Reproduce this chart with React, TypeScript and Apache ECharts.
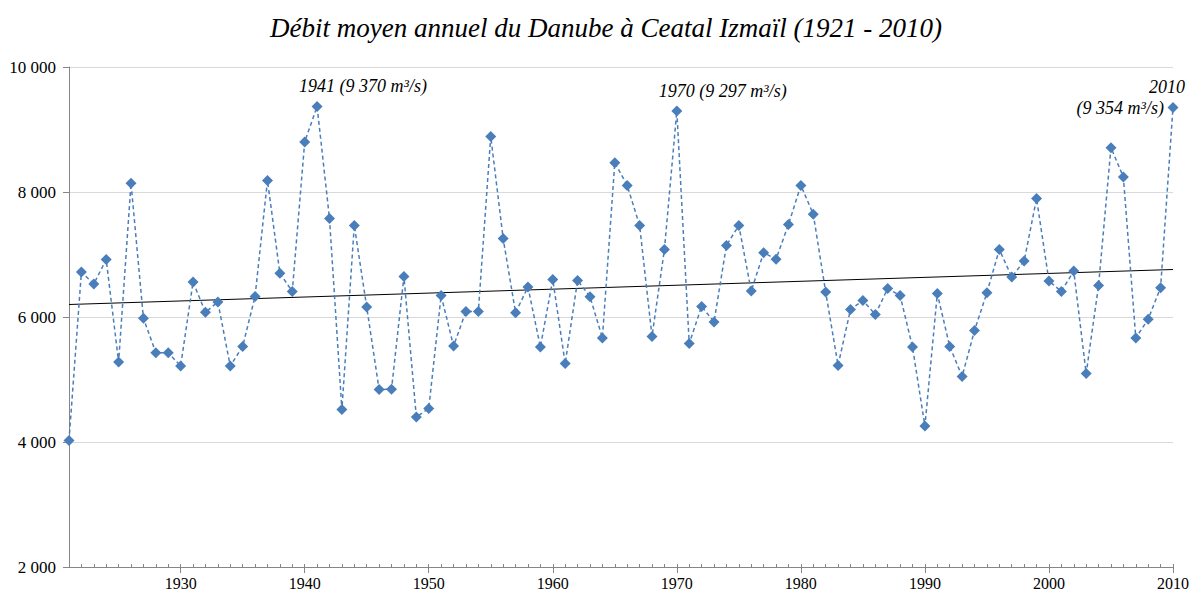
import React, { useEffect, useRef } from "react";
import * as echarts from "echarts";

const firstYear = 1921;
const lastYear = 2010;
const years: string[] = Array.from({ length: lastYear - firstYear + 1 }, (_, i) => String(firstYear + i));

const flows: number[] = [
  4024, 6720, 6530, 6920, 5280, 8140, 5980, 5430, 5430, 5215,
  6560, 6075, 6240, 5215, 5530, 6330, 8185, 6700, 6410, 8800,
  9370, 7575, 4520, 7465, 6160, 4840, 4845, 6650, 4400, 4535,
  6345, 5535, 6090, 6090, 8890, 7255, 6070, 6480, 5520, 6600,
  5255, 6585, 6325, 5665, 8470, 8105, 7465, 5690, 7080, 9297,
  5575, 6170, 5920, 7145, 7465, 6415, 7030, 6925, 7480, 8105,
  7645, 6400, 5225, 6120, 6265, 6040, 6455, 6345, 5520, 4255,
  6375, 5530, 5050, 5785, 6390, 7080, 6640, 6895, 7895, 6575,
  6410, 6735, 5095, 6505, 8710, 8240, 5665, 5965, 6470, 9354,
];

const trendStart = 6200;
const trendEnd = 6760;

const yTicks = [2000, 4000, 6000, 8000, 10000];

const titleText = "Débit moyen annuel du Danube à Ceatal Izmaïl (1921 - 2010)";
const annotated: Record<string, string> = {
  "1941": "1941 (9 370 m³/s)",
  "1970": "1970 (9 297 m³/s)",
};
const lastLabelYear = "2010";
const lastLabelTop = "2010";
const lastLabelBottom = "(9 354 m³/s)";

const fmt = (v: number) => String(v).replace(/\B(?=(\d{3})+(?!\d))/g, " ");

const SERIF = "Liberation Serif";

export default function App() {
  const ref = useRef<HTMLDivElement>(null);
  useEffect(() => {
    if (!ref.current) return;
    const chart = echarts.init(ref.current, null, { renderer: "svg" });
    const half = 5.5;
    const seriesData = flows.map((v, i) => {
      const y = years[i];
      if (annotated[y]) {
        return {
          value: v,
          label: {
            show: true,
            formatter: annotated[y],
            position: [half - 18, half - 20],
            align: "left",
            verticalAlign: "middle",
            fontFamily: SERIF,
            fontStyle: "italic",
            fontSize: 18,
            color: "#000",
          },
        };
      }
      if (y === lastLabelYear) {
        return {
          value: v,
          label: {
            show: true,
            formatter: "{a|" + lastLabelTop + "}\n{b|" + lastLabelBottom + "}",
            position: [half + 12, half + 11],
            align: "right",
            verticalAlign: "bottom",
            rich: {
              a: { fontFamily: SERIF, fontStyle: "italic", fontSize: 18, color: "#000", lineHeight: 21 },
              b: { fontFamily: SERIF, fontStyle: "italic", fontSize: 18, color: "#000", lineHeight: 21, padding: [0, 21, 0, 0] },
            },
          },
        };
      }
      return v;
    });
    const trendData = years.map((_, i) => (i === 0 ? trendStart : i === years.length - 1 ? trendEnd : null));

    chart.setOption({
      animation: false,
      backgroundColor: "#fff",
      graphic: [
        {
          type: "text",
          x: 606,
          y: 28,
          style: {
            text: titleText,
            fontFamily: SERIF,
            fontStyle: "italic",
            fontSize: 27,
            fill: "#000",
            align: "center",
            verticalAlign: "middle",
          },
        },
      ],
      grid: { left: 69, top: 67, width: 1107, height: 500, containLabel: false },
      xAxis: [
        {
          type: "category",
          data: years,
          boundaryGap: false,
          axisLine: { show: true, lineStyle: { color: "#868686", width: 1 } },
          axisTick: { show: true, interval: 0, inside: true, length: 3, lineStyle: { color: "#868686" } },
          axisLabel: {
            interval: (i: number, v: string) => Number(v) % 10 === 0,
            fontFamily: SERIF,
            fontSize: 16,
            color: "#000",
            margin: 8,
          },
          splitLine: { show: false },
        },
        {
          type: "category",
          data: years,
          boundaryGap: false,
          position: "bottom",
          axisLine: { show: false },
          axisTick: {
            show: true,
            interval: (i: number, v: string) => Number(v) % 10 === 0,
            length: 6,
            lineStyle: { color: "#868686" },
          },
          axisLabel: { show: false },
          splitLine: { show: false },
        },
      ],
      yAxis: {
        type: "value",
        min: yTicks[0],
        max: yTicks[yTicks.length - 1],
        interval: 2000,
        axisLine: { show: true, lineStyle: { color: "#868686" } },
        axisTick: { show: true, length: 6, lineStyle: { color: "#868686" } },
        axisLabel: {
          formatter: (v: number) => fmt(v),
          fontFamily: SERIF,
          fontSize: 17,
          color: "#000",
          margin: 13,
        },
        splitLine: { show: true, lineStyle: { color: "#d9d9d9", width: 1 } },
      },
      series: [
        {
          type: "line",
          data: trendData,
          connectNulls: true,
          symbol: "none",
          lineStyle: { color: "#000", width: 1 },
          z: 1,
        },
        {
          type: "line",
          data: seriesData,
          symbol: "diamond",
          symbolSize: 11,
          showSymbol: true,
          showAllSymbol: true,
          itemStyle: { color: "#4a7ebb" },
          lineStyle: { color: "#4a7ebb", width: 1.5, type: [4, 3] },
          z: 2,
        },
      ],
    });
    return () => chart.dispose();
  }, []);
  return (
    <div
      ref={ref}
      style={{ position: "absolute", left: 0, top: 0, width: 1192, height: 595 }}
    />
  );
}
